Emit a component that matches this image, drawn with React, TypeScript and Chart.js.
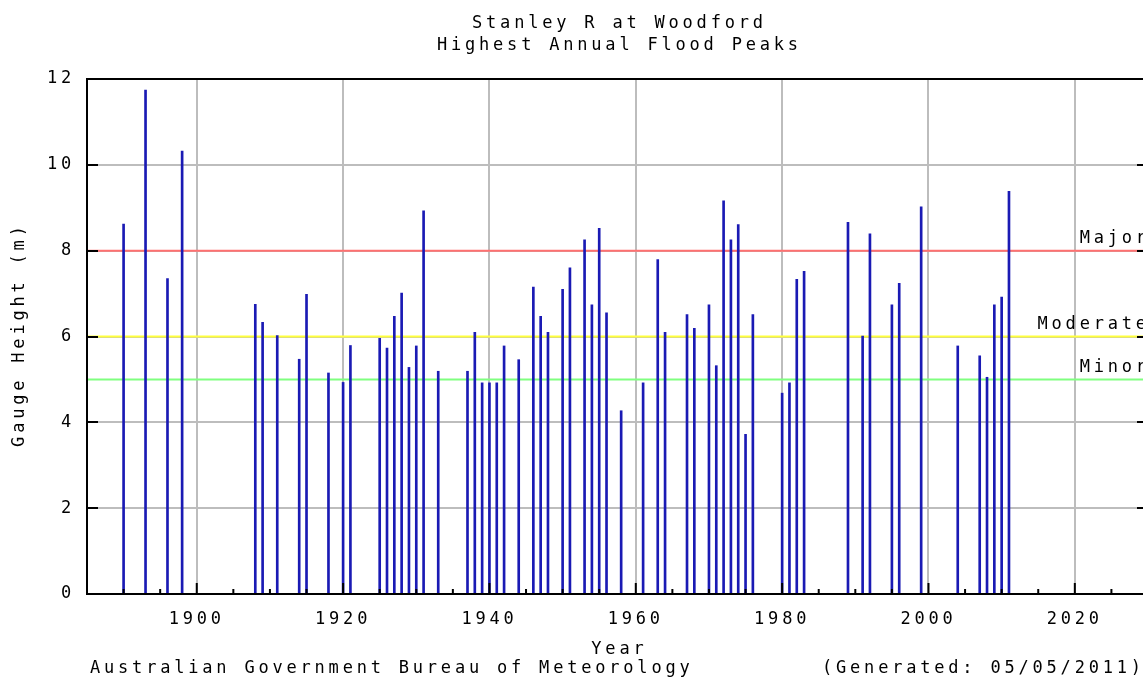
import React, { useEffect, useRef } from "react";
import { Chart, registerables } from "chart.js";

Chart.register(...registerables);

// ---- data ----
const years = [
  1890, 1893, 1896, 1898, 1908, 1909, 1911, 1914, 1915, 1918, 1920, 1921,
  1925, 1926, 1927, 1928, 1929, 1930, 1931, 1933, 1937, 1938, 1939, 1940,
  1941, 1942, 1944, 1946, 1947, 1948, 1950, 1951, 1953, 1954, 1955, 1956,
  1958, 1961, 1963, 1964, 1967, 1968, 1970, 1971, 1972, 1973, 1974, 1975,
  1976, 1980, 1981, 1982, 1983, 1989, 1991, 1992, 1995, 1996, 1999, 2004,
  2007, 2008, 2009, 2010, 2011,
];
const peaks = [
  8.62, 11.74, 7.35, 10.32, 6.75, 6.33, 6.02, 5.47, 6.98, 5.15, 4.93, 5.79,
  5.96, 5.73, 6.47, 7.01, 5.28, 5.78, 8.93, 5.19, 5.19, 6.1, 4.92, 4.92,
  4.92, 5.78, 5.46, 7.15, 6.47, 6.1, 7.1, 7.6, 8.25, 6.74, 8.52, 6.55,
  4.27, 4.92, 7.79, 6.1, 6.51, 6.19, 6.74, 5.32, 9.16, 8.25, 8.61, 3.72,
  6.51, 4.68, 4.92, 7.33, 7.52, 8.66, 6.01, 8.39, 6.74, 7.24, 9.02, 5.78,
  5.55, 5.05, 6.74, 6.92, 9.38,
];
const xTickValues = [1900, 1920, 1940, 1960, 1980, 2000, 2020];
const xMinorTickValues = [
  1890, 1895, 1905, 1910, 1915, 1925, 1930, 1935, 1945, 1950, 1955, 1965,
  1970, 1975, 1985, 1990, 1995, 2005, 2010, 2015, 2025,
];
const yTickValues = [0, 2, 4, 6, 8, 10, 12];
const floodLevels = [8, 6, 5];
const floodLabels = ["Major", "Moderate", "Minor"];
const titleLines = ["Stanley R at Woodford", "Highest Annual Flood Peaks"];
const xTitle = "Year";
const yTitle = "Gauge Height (m)";
const footerLeft = "Australian Government Bureau of Meteorology";
const footerRight = "(Generated: 05/05/2011)";

// ---- styles ----
const FONT_FAMILY = '"DejaVu Sans Mono", monospace';
const FONT_SIZE = 17;
const LS = 3.8;
const levelColors = ["#ff7070", "#ffff3c", "#80ff80"];

function setText(ctx: CanvasRenderingContext2D) {
  ctx.font = `${FONT_SIZE}px ${FONT_FAMILY}`;
  (ctx as any).letterSpacing = `${LS}px`;
  ctx.fillStyle = "#000";
}

function drawText(
  ctx: CanvasRenderingContext2D,
  text: string,
  x: number,
  y: number,
  align: "left" | "center" | "right"
) {
  ctx.textAlign = align;
  ctx.textBaseline = "middle";
  let dx = 0;
  if (align === "center") dx = LS / 2;
  if (align === "right") dx = LS;
  ctx.fillText(text, x + dx, y);
}

const decorPlugin = {
  id: "decor",
  beforeDraw(chart: any) {
    (chart.ctx as any).letterSpacing = `${LS}px`;
  },
  beforeDatasetsDraw(chart: any) {
    const { ctx, chartArea } = chart;
    const ys = chart.scales.y;
    ctx.save();
    floodLevels.forEach((lv, i) => {
      const py = ys.getPixelForValue(lv);
      ctx.strokeStyle = levelColors[i];
      ctx.lineWidth = 2;
      ctx.beginPath();
      ctx.moveTo(chartArea.left, py);
      ctx.lineTo(chartArea.right, py);
      ctx.stroke();
    });
    setText(ctx);
    floodLevels.forEach((lv, i) => {
      const py = ys.getPixelForValue(lv);
      drawText(ctx, floodLabels[i], chartArea.right - 2, py - 12, "right");
    });
    ctx.restore();
  },
  afterDraw(chart: any) {
    const { ctx, chartArea } = chart;
    const xs = chart.scales.x;
    const ys = chart.scales.y;
    const { left, right, top, bottom } = chartArea;
    ctx.save();
    // ticks (inward)
    ctx.strokeStyle = "#000";
    ctx.lineWidth = 2;
    ctx.beginPath();
    yTickValues.forEach((v) => {
      const py = Math.round(ys.getPixelForValue(v));
      ctx.moveTo(left, py);
      ctx.lineTo(left + 11, py);
      ctx.moveTo(right, py);
      ctx.lineTo(right - 11, py);
    });
    xTickValues.forEach((v) => {
      const px = xs.getPixelForValue(v);
      ctx.moveTo(px, bottom);
      ctx.lineTo(px, bottom - 11);
    });
    xMinorTickValues.forEach((v) => {
      const px = xs.getPixelForValue(v);
      ctx.moveTo(px, bottom);
      ctx.lineTo(px, bottom - 5);
    });
    ctx.stroke();
    // frame
    ctx.strokeRect(left, top, right - left, bottom - top);

    // texts
    setText(ctx);
    const cx = (left + right) / 2;
    drawText(ctx, titleLines[0], cx, 24, "center");
    drawText(ctx, titleLines[1], cx, 46, "center");
    drawText(ctx, xTitle, cx, 650, "center");
    drawText(ctx, footerLeft, 90, 669, "left");
    drawText(ctx, footerRight, 1141, 669, "right");

    ctx.save();
    ctx.translate(20, (top + bottom) / 2);
    ctx.rotate(-Math.PI / 2);
    drawText(ctx, yTitle, 0, 0, "center");
    ctx.restore();

    ctx.restore();
  },
};

export default function App() {
  const ref = useRef<HTMLCanvasElement | null>(null);

  useEffect(() => {
    document.body.style.margin = "0";
    const canvas = ref.current;
    if (!canvas) return;
    const font = { family: FONT_FAMILY, size: FONT_SIZE };
    const chart = new Chart(canvas, {
      type: "bar",
      data: {
        datasets: [
          {
            data: years.map((yr, i) => ({ x: yr, y: peaks[i] })),
            backgroundColor: "#1a1ab4",
            borderWidth: 0,
            barThickness: 2,
          } as any,
        ],
      },
      plugins: [decorPlugin],
      options: {
        animation: false,
        responsive: false,
        devicePixelRatio: 1,
        layout: { padding: { left: 0, right: 12, top: 79, bottom: 0 } },
        plugins: {
          legend: { display: false },
          tooltip: { enabled: false },
          title: { display: false },
        },
        scales: {
          x: {
            type: "linear",
            min: 1885,
            max: 2030,
            offset: false,
            afterBuildTicks: (s: any) => {
              s.ticks = xTickValues.map((v) => ({ value: v }));
            },
            afterFit: (s: any) => {
              s.height = 86;
            },
            grid: { color: "#bdbdbd", lineWidth: 2, drawTicks: false, offset: false },
            border: { display: false },
            ticks: {
              font,
              color: "#000",
              padding: 15,
              maxRotation: 0,
              autoSkip: false,
              labelOffset: 0,
              callback: (v: any) => String(v),
            },
          },
          y: {
            min: 0,
            max: 12,
            afterBuildTicks: (s: any) => {
              s.ticks = yTickValues.map((v) => ({ value: v }));
            },
            afterFit: (s: any) => {
              s.width = 87;
            },
            grid: { color: "#bdbdbd", lineWidth: 2, drawTicks: false },
            border: { display: false },
            ticks: { font, color: "#000", padding: 12, callback: (v: any) => String(v) },
          },
        },
      } as any,
    });
    return () => chart.destroy();
  }, []);

  return (
    <div
      style={{
        position: "fixed",
        left: 0,
        top: 0,
        width: 1143,
        height: 680,
        overflow: "hidden",
        background: "#fff",
      }}
    >
      <canvas ref={ref} width={1160} height={680} style={{ display: "block" }} />
    </div>
  );
}
